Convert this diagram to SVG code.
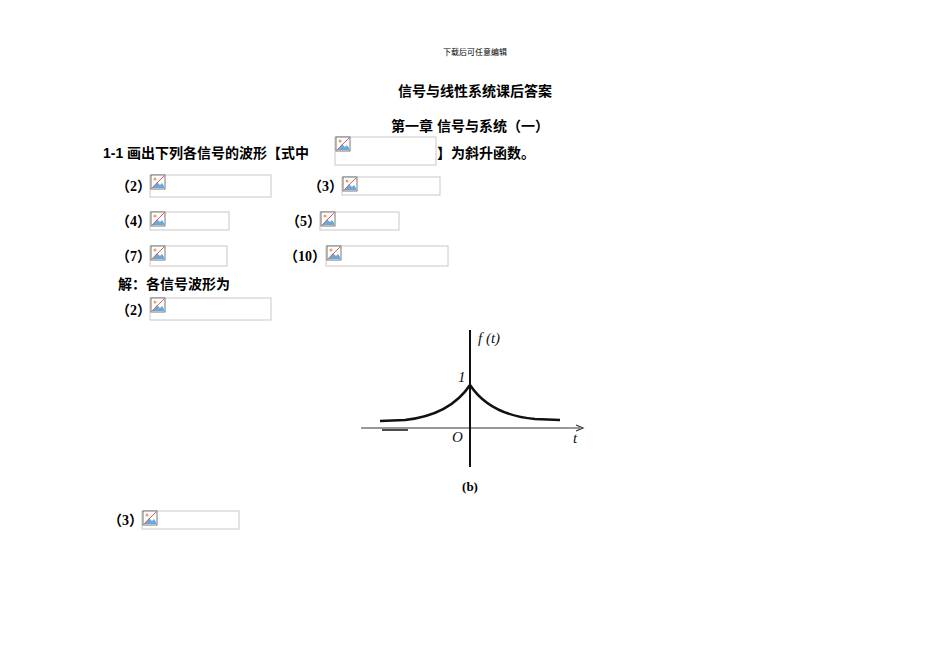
<svg xmlns="http://www.w3.org/2000/svg" width="950" height="672" viewBox="0 0 950 672">
<defs>
<style>
.b{font-family:"Liberation Sans","Noto Sans CJK SC",sans-serif;font-weight:bold;font-size:14px;fill:#000}
.s{font-family:"Liberation Serif","Noto Sans CJK SC",serif;font-weight:bold;font-size:14px;fill:#000}
.box{fill:#fff;stroke:#c8c8c8;stroke-width:1}
.g{font-family:"Liberation Serif",serif;font-style:italic;font-size:15px;fill:#111}
</style>
<g id="ic">
<rect x="0" y="0" width="14" height="14" fill="#fff" stroke="#555" stroke-width="0.8"/>
<path d="M1 13 L6 7 L9 10 L11 8 L13 11 L13 13 Z" fill="#6aa8dc"/>
<circle cx="4" cy="4" r="1.5" fill="#e8a060"/>
<line x1="1" y1="13" x2="13" y2="1" stroke="#e06060" stroke-width="1"/>
</g>
</defs>
<rect width="950" height="672" fill="#fff"/>
<text x="475" y="55" text-anchor="middle" font-family="'Liberation Serif','Noto Sans CJK SC',serif" font-size="8">下载后可任意编辑</text>
<text x="475" y="96" text-anchor="middle" class="b" font-size="15">信号与线性系统课后答案</text>
<text x="470" y="131" text-anchor="middle" class="b">第一章 信号与系统（一）</text>
<text x="103" y="158" class="b">1-1 画出下列各信号的波形【式中</text>
<g id="n0"><rect class="box" x="335" y="137" width="101" height="28"/><use href="#ic" x="336" y="137"/></g>
<text x="437" y="158" class="b">】为斜升函数。</text>

<text x="116" y="191" class="s">（2）</text>
<g id="n1"><rect class="box" x="150" y="175" width="121" height="22"/><use href="#ic" x="151" y="175"/></g>
<text x="308" y="191" class="s">（3）</text>
<g id="n2"><rect class="box" x="342" y="177" width="98" height="18"/><use href="#ic" x="343" y="177"/></g>

<text x="116" y="226" class="s">（4）</text>
<g id="n3"><rect class="box" x="150" y="212" width="79" height="18"/><use href="#ic" x="151" y="212"/></g>
<text x="286" y="226" class="s">（5）</text>
<g id="n4"><rect class="box" x="320" y="212" width="79" height="18"/><use href="#ic" x="321" y="212"/></g>

<text x="116" y="261" class="s">（7）</text>
<g id="n5"><rect class="box" x="150" y="246" width="77" height="20"/><use href="#ic" x="151" y="246"/></g>
<text x="284" y="261" class="s">（10）</text>
<g id="n6"><rect class="box" x="326" y="246" width="122" height="20"/><use href="#ic" x="327" y="246"/></g>

<text x="118" y="289" class="b">解：各信号波形为</text>
<text x="116" y="315" class="s">（2）</text>
<g id="n7"><rect class="box" x="150" y="298" width="121" height="22"/><use href="#ic" x="151" y="298"/></g>

<g id="graph">
<line x1="361" y1="428" x2="580" y2="428" stroke="#333" stroke-width="1.2"/>
<path d="M576 425 L583 428 L576 431" fill="none" stroke="#333" stroke-width="1.2"/>
<line x1="470" y1="330" x2="470" y2="467" stroke="#111" stroke-width="2"/>
<path d="M380 421 L405 420 Q450 415 470 385 Q490 415 535 419 L560 420" fill="none" stroke="#111" stroke-width="2.5"/>
<line x1="382" y1="430" x2="408" y2="430" stroke="#111" stroke-width="1.5"/>
<text x="478" y="343" class="g">f (t)</text>
<text x="458" y="382" class="g" font-style="normal" font-size="13">1</text>
<text x="452" y="442" class="g">O</text>
<text x="573" y="443" class="g">t</text>
<text x="470" y="491" text-anchor="middle" font-family="'Liberation Serif',serif" font-weight="bold" font-size="13">(b)</text>
</g>

<text x="108" y="525" class="s">（3）</text>
<g id="n8"><rect class="box" x="142" y="511" width="97" height="18"/><use href="#ic" x="143" y="511"/></g>
</svg>
